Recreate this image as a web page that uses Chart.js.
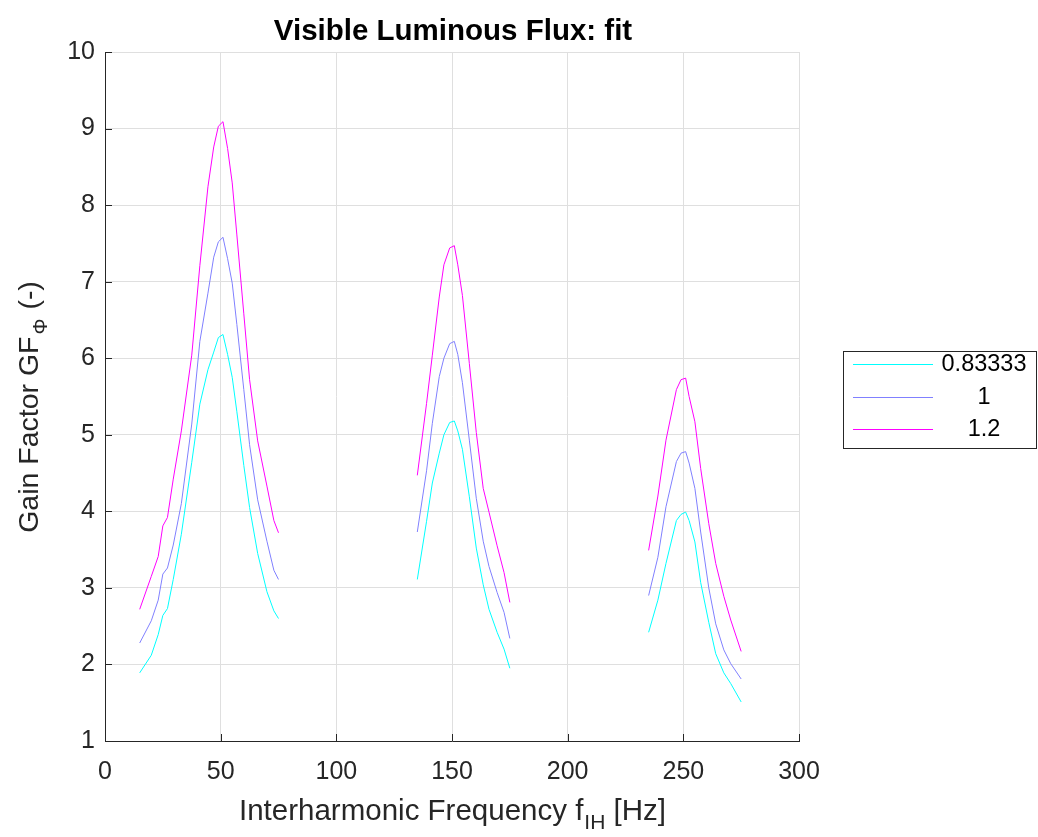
<!DOCTYPE html>
<html>
<head>
<meta charset="utf-8">
<script src="https://cdn.jsdelivr.net/npm/chart.js@4.4.0/dist/chart.umd.min.js"></script>
<style>
  html, body { margin: 0; padding: 0; background: #fff; }
</style>
</head>
<body>
<canvas id="chart" width="1038" height="837"></canvas>
<script>
// interharmonic frequency (Hz); null y at 105 / 205 breaks the line into three groups
const freq = [
  15, 20, 23, 25, 27, 29.5, 33, 37.5, 41, 44.5, 47, 49, 51, 53, 55, 57, 60, 62.5, 66, 70, 73, 75,
  105,
  135, 139, 141.5, 144.5, 146.5, 149, 151, 152.5, 154.5, 157.5, 160.5, 163.5, 166, 169.5, 172.5, 175,
  205,
  235, 239, 242.5, 247, 249, 251, 252.5, 255, 257.5, 261, 264, 267.5, 270.5, 275
];

const gf0833 = [
  1.89, 2.12, 2.39, 2.64, 2.73, 3.11, 3.7, 4.64, 5.4, 5.85, 6.08, 6.27, 6.31, 6.05, 5.75, 5.3, 4.6, 4.05, 3.45, 2.95, 2.7, 2.6,
  null,
  3.11, 3.87, 4.37, 4.76, 5.0, 5.16, 5.18, 5.05, 4.81, 4.19, 3.52, 3.04, 2.72, 2.42, 2.2, 1.95,
  null,
  2.42, 2.84, 3.32, 3.88, 3.96, 3.99, 3.88, 3.6, 3.07, 2.55, 2.14, 1.89, 1.75, 1.51
];

const gf1 = [
  2.28, 2.57, 2.84, 3.18, 3.26, 3.56, 4.1, 5.14, 6.22, 6.85, 7.32, 7.52, 7.58, 7.3, 6.98, 6.44, 5.59, 4.87, 4.15, 3.61, 3.23, 3.11,
  null,
  3.73, 4.53, 5.15, 5.76, 6.0, 6.19, 6.22, 6.05, 5.68, 4.93, 4.17, 3.61, 3.28, 2.94, 2.68, 2.34,
  null,
  2.9, 3.4, 4.06, 4.65, 4.76, 4.78, 4.63, 4.3, 3.73, 3.0, 2.53, 2.19, 2.01, 1.81
];

const gf12 = [
  2.72, 3.15, 3.41, 3.81, 3.92, 4.42, 5.05, 6.04, 7.21, 8.24, 8.76, 9.03, 9.09, 8.74, 8.29, 7.61, 6.58, 5.72, 4.92, 4.33, 3.88, 3.72,
  null,
  4.47, 5.41, 6.04, 6.8, 7.22, 7.44, 7.47, 7.22, 6.82, 5.93, 5.03, 4.3, 3.99, 3.55, 3.2, 2.81,
  null,
  3.49, 4.2, 4.93, 5.59, 5.72, 5.74, 5.5, 5.17, 4.56, 3.84, 3.32, 2.89, 2.58, 2.17
];

const seriesNames = ["0.83333", "1", "1.2"];
const seriesColors = ["#00ffff", "#8080ff", "#ff00ff"];

const FONT = '"Liberation Sans", Arial, sans-serif';
const AXIS_COLOR = "#262626";

function toPoints(values) {
  return freq.map(function (f, i) {
    return { x: f, y: values[i] };
  });
}

// title, axis labels with subscripts, inward ticks and the boxed legend
const matlabDecor = {
  id: "matlabDecor",
  afterDraw: function (chart) {
    const ctx = chart.ctx;
    const area = chart.chartArea;
    const xs = chart.scales.x;
    const ys = chart.scales.y;
    ctx.save();

    // inward tick marks
    ctx.strokeStyle = AXIS_COLOR;
    ctx.lineWidth = 1;
    ctx.beginPath();
    xs.ticks.forEach(function (t) {
      const px = Math.round(xs.getPixelForValue(t.value)) + 0.5;
      ctx.moveTo(px, area.bottom);
      ctx.lineTo(px, area.bottom - 7);
    });
    ys.ticks.forEach(function (t) {
      const py = Math.round(ys.getPixelForValue(t.value)) + 0.5;
      ctx.moveTo(area.left, py);
      ctx.lineTo(area.left + 7, py);
    });
    ctx.stroke();

    ctx.fillStyle = "#000";
    ctx.textBaseline = "alphabetic";

    // title
    ctx.font = "bold 29.5px " + FONT;
    ctx.textAlign = "center";
    ctx.fillText("Visible Luminous Flux: fit", 453, 40);

    // x label
    ctx.fillStyle = AXIS_COLOR;
    const xMain = "Interharmonic Frequency f";
    const xSub = "IH";
    const xTail = " [Hz]";
    ctx.font = "29.5px " + FONT;
    const w1 = ctx.measureText(xMain).width;
    const w3 = ctx.measureText(xTail).width;
    ctx.font = "21px " + FONT;
    const w2 = ctx.measureText(xSub).width;
    let sx = 452 - (w1 + w2 + w3) / 2;
    const by = 820;
    ctx.textAlign = "left";
    ctx.font = "29.5px " + FONT;
    ctx.fillText(xMain, sx, by);
    ctx.font = "21px " + FONT;
    ctx.fillText(xSub, sx + w1 + 1, by + 9);
    ctx.font = "29.5px " + FONT;
    ctx.fillText(xTail, sx + w1 + w2 + 1, by);

    // y label (rotated)
    ctx.translate(38, (area.top + area.bottom) / 2);
    ctx.rotate(-Math.PI / 2);
    const yMain = "Gain Factor GF";
    const ySub = "\u03A6";
    const yTail = " (-)";
    ctx.font = "28.5px " + FONT;
    const v1 = ctx.measureText(yMain).width;
    const v3 = ctx.measureText(yTail).width;
    ctx.font = "20px " + FONT;
    const v2 = ctx.measureText(ySub).width;
    let sy = -(v1 + v2 + v3) / 2 - 12;
    ctx.font = "28.5px " + FONT;
    ctx.fillText(yMain, sy, 0);
    ctx.font = "20px " + FONT;
    ctx.fillText(ySub, sy + v1 + 2, 9);
    ctx.font = "28.5px " + FONT;
    ctx.fillText(yTail, sy + v1 + v2 + 3, 0);
    ctx.setTransform(1, 0, 0, 1, 0, 0);

    // legend box
    const lx = 843.5, ly = 351.5, lw = 193, lh = 97;
    ctx.fillStyle = "#fff";
    ctx.fillRect(lx, ly, lw, lh);
    ctx.strokeStyle = AXIS_COLOR;
    ctx.strokeRect(lx, ly, lw, lh);
    ctx.font = "23.5px " + FONT;
    ctx.textAlign = "center";
    ctx.textBaseline = "middle";
    seriesNames.forEach(function (name, i) {
      const rowY = Math.round(364 + i * 32.5);
      ctx.fillStyle = seriesColors[i];
      ctx.fillRect(853, rowY, 80, 1);
      ctx.fillStyle = "#000";
      ctx.fillText(name, 984, rowY + 1);
    });

    ctx.restore();
  },
};

const ctx = document.getElementById("chart").getContext("2d");
new Chart(ctx, {
  type: "line",
  data: {
    datasets: [
      { label: seriesNames[0], data: toPoints(gf0833), borderColor: seriesColors[0] },
      { label: seriesNames[1], data: toPoints(gf1), borderColor: seriesColors[1] },
      { label: seriesNames[2], data: toPoints(gf12), borderColor: seriesColors[2] },
    ],
  },
  options: {
    responsive: false,
    animation: false,
    devicePixelRatio: 1,
    spanGaps: false,
    elements: {
      point: { radius: 0 },
      line: { borderWidth: 1, tension: 0 },
    },
    layout: { padding: { top: 52, right: 239, left: 0, bottom: 0 } },
    plugins: {
      legend: { display: false },
      title: { display: false },
      tooltip: { enabled: false },
    },
    scales: {
      x: {
        type: "linear",
        min: 0,
        max: 300,
        afterFit: function (scale) { scale.height = 96; },
        ticks: {
          stepSize: 50,
          color: AXIS_COLOR,
          font: { family: FONT, size: 25 },
          padding: 16,
          maxRotation: 0,
        },
        grid: { color: "#dfdfdf", lineWidth: 1, drawTicks: false },
        border: { color: AXIS_COLOR, width: 1 },
      },
      y: {
        min: 1,
        max: 10,
        afterFit: function (scale) { scale.width = 105; },
        ticks: {
          stepSize: 1,
          color: AXIS_COLOR,
          font: { family: FONT, size: 25 },
          padding: 10,
        },
        grid: { color: "#dfdfdf", lineWidth: 1, drawTicks: false },
        border: { color: AXIS_COLOR, width: 1 },
      },
    },
  },
  plugins: [matlabDecor],
});
</script>
</body>
</html>
